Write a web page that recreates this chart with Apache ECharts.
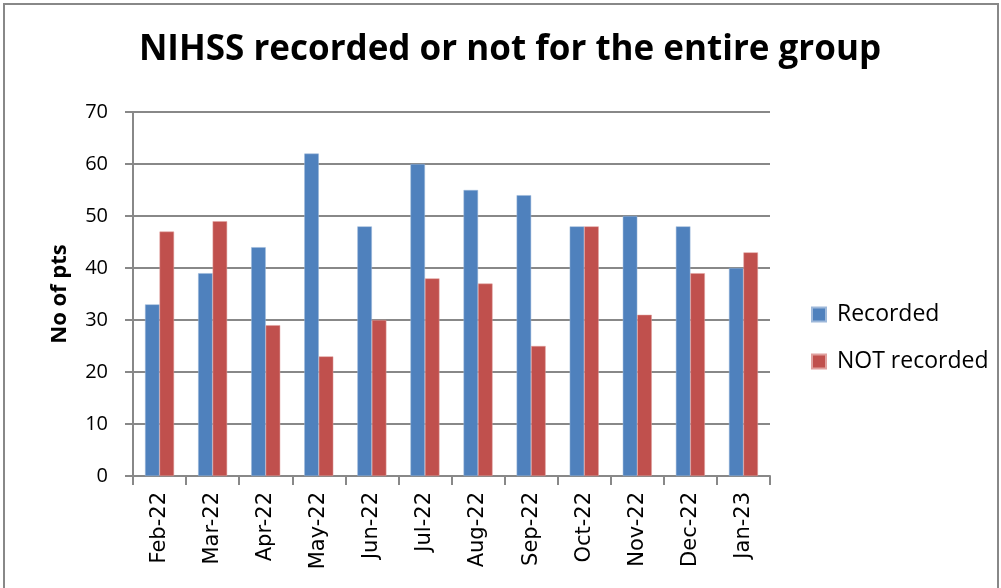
<!DOCTYPE html>
<html><head><meta charset="utf-8">
<script src="https://cdn.jsdelivr.net/npm/echarts@6/dist/echarts.min.js"></script>
<style>html,body{margin:0;padding:0;background:#fff}#c{width:1001px;height:588px}</style>
</head><body><div id="c"></div>
<script>
const categories = ['Feb-22','Mar-22','Apr-22','May-22','Jun-22','Jul-22','Aug-22','Sep-22','Oct-22','Nov-22','Dec-22','Jan-23'];
const recorded = [33,39,44,62,48,60,55,54,48,50,48,40];
const notRecorded = [47,49,29,23,30,38,37,25,48,31,39,43];
const yTicks = [0,10,20,30,40,50,60,70];

const chart = echarts.init(document.getElementById('c'));
chart.setOption({
  animation:false,
  title:{text:'NIHSS recorded or not for the entire group',left:505,top:28,textAlign:'center',
    textStyle:{fontFamily:'Open Sans',fontWeight:'bold',fontSize:35,color:'#000'}},
  graphic:[{type:'rect',shape:{x:4,y:4,width:994,height:600},style:{fill:'none',stroke:'#888',lineWidth:2}}],
  legend:{orient:'vertical',left:806,top:298,itemWidth:14,itemHeight:14,itemGap:24,icon:'rect',
    textStyle:{fontFamily:'Open Sans',fontSize:23,color:'#000',padding:[0,0,0,6]},data:['Recorded','NOT recorded']},
  grid:{left:133,right:231,top:112,bottom:112,containLabel:false},
  xAxis:{type:'category',data:categories,
    axisLine:{lineStyle:{color:'#888',width:2}},
    axisTick:{show:true,length:9,interval:0,lineStyle:{color:'#888',width:2}},
    axisLabel:{rotate:90,interval:0,fontFamily:'DejaVu Sans',fontSize:21,color:'#000',margin:16}},
  yAxis:{type:'value',min:0,max:70,interval:10,
    name:'No of pts',nameLocation:'middle',nameGap:62,
    nameTextStyle:{fontFamily:'Open Sans',fontWeight:'bold',fontSize:22,color:'#000'},
    axisLine:{show:true,lineStyle:{color:'#888',width:2}},
    axisTick:{show:true,length:8,lineStyle:{color:'#888',width:2}},
    splitLine:{lineStyle:{color:'#888',width:2}},
    axisLabel:{fontFamily:'Open Sans',fontSize:20,color:'#000',margin:25,
      formatter:v=>yTicks.includes(v)?String(v):''}},
  series:[
    {name:'Recorded',type:'bar',data:recorded,barWidth:14.5,barGap:'0%',
      itemStyle:{color:'#4F81BD',borderColor:'#9DB8DA',borderWidth:0.5}},
    {name:'NOT recorded',type:'bar',data:notRecorded,barWidth:14.5,barGap:'0%',
      itemStyle:{color:'#C0504D',borderColor:'#E0A09E',borderWidth:0.5}}
  ]
});
</script></body></html>
